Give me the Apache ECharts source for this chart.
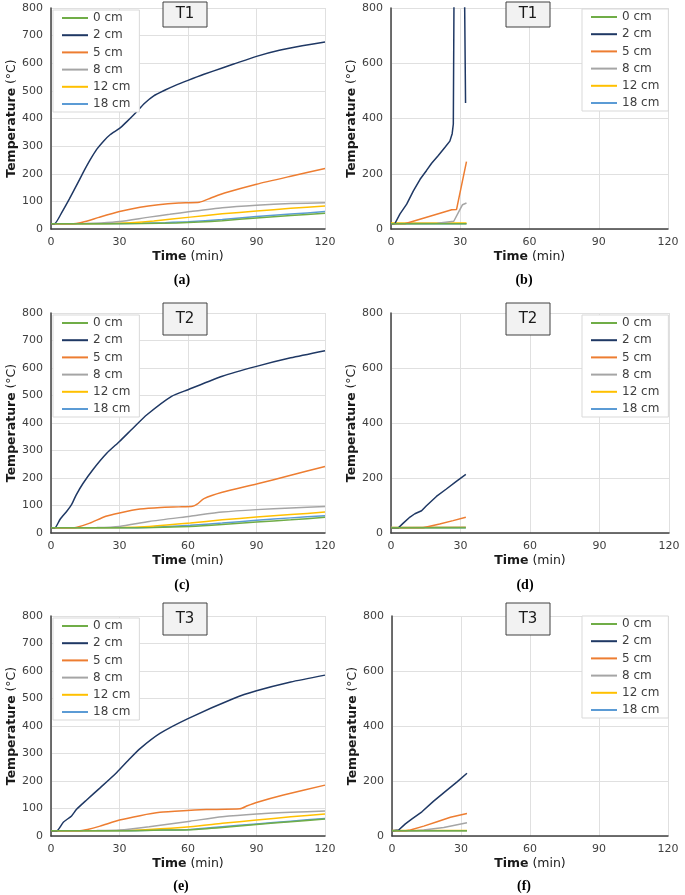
<!DOCTYPE html>
<html><head><meta charset="utf-8">
<script src="https://cdn.jsdelivr.net/npm/echarts@6/dist/echarts.min.js"></script>
<style>html,body{margin:0;padding:0;background:#fff}#c{width:685px;height:895px}</style>
</head><body><div id="c"></div>
<script>
const seriesNames = ['0 cm','2 cm','5 cm','8 cm','12 cm','18 cm'];
const panelTags = ['T1','T1','T2','T2','T3','T3'];
const panelLetters = ['(a)','(b)','(c)','(d)','(e)','(f)'];
const xTicks = [0,30,60,90,120];
const yTicksLeft = [0,100,200,300,400,500,600,700,800];
const yTicksRight = [0,200,400,600,800];

// Panel (a) T1
const A0  = [[0,19],[20,19],[40,20],[55,22],[65,25],[75,30],[90,40],[105,49],[120,57]];
const A2  = [[0,19],[1.5,19],[5,64],[8,108],[11,155],[14,203],[17,248],[20,288],[23,318],[26,342],[30,364],[33,387],[37,420],[41,455],[45,482],[50,503],[54,518],[60,538],[67,560],[75,583],[80,597],[90,625],[100,647],[110,663],[120,677]];
const A5  = [[0,19],[8,19],[11,20],[15,27],[21,42],[30,63],[39,79],[47,88],[56,94],[65,97],[70,112],[76,130],[90,162],[105,191],[120,219]];
const A8  = [[0,19],[15,20],[22,22],[30,27],[43,43],[52,53],[61,63],[75,77],[90,86],[105,92],[120,95]];
const A12 = [[0,19],[25,20],[35,23],[45,29],[61,43],[75,55],[90,65],[105,75],[120,83]];
const A18 = [[0,19],[20,19],[40,21],[50,23],[60,26],[75,34],[90,45],[105,54],[120,63]];

// Panel (b) T1
const B0  = [[0,19],[32.7,19]];
const B2  = [[0,19],[1.7,20],[3.9,55],[6.8,90],[9.7,138],[12.6,180],[15.4,212],[17.6,238],[20.5,266],[23.4,296],[25.5,318],[26.5,345],[27,380],[27.4,1000],[31.7,1000],[32.3,456]];
const B5  = [[0,19],[6,19],[26.3,70],[28.4,71],[29.2,74],[32.7,244]];
const B8  = [[0,19],[20,21],[27.2,28],[29.5,65],[31,88],[32.7,94]];
const B12 = [[0,22],[32.7,22]];
const B18 = [[0,19],[32.7,19]];

// Panel (c) T2
const C0  = [[0,19],[30,19],[45,20],[61,24],[75,31],[90,40],[105,48],[120,57]];
const C2  = [[0,19],[1.7,19],[4,50],[7,80],[9,103],[11,138],[14,180],[18.5,232],[24.4,290],[30,333],[36,382],[42,430],[52.8,497],[60,521],[75,570],[90,606],[105,637],[120,663]];
const C5  = [[0,19],[9,19],[11,20],[17,36],[24,61],[30,73],[39,87],[48,93],[56,95],[62,97],[64,105],[67,125],[75,148],[90,178],[105,210],[120,242]];
const C8  = [[0,19],[20,20],[30,24],[43,42],[61,61],[75,76],[90,85],[105,91],[120,96]];
const C12 = [[0,19],[30,20],[43,24],[61,36],[75,48],[90,58],[105,67],[120,76]];
const C18 = [[0,19],[30,19],[45,21],[61,28],[75,36],[90,46],[105,55],[120,63]];

// Panel (d) T2
const D0  = [[0,19],[32.3,19]];
const D2  = [[0,19],[3.2,19],[5.3,36],[8.2,58],[10.3,70],[13.2,81],[15.3,99],[19.6,133],[23.9,160],[28.2,188],[32.3,213]];
const D5  = [[0,19],[13.9,19],[21,33],[26.8,45],[32.3,57]];
const D8  = [[0,20],[32.3,21]];
const D12 = [[0,20],[32.3,21]];
const D18 = [[0,19],[32.3,19]];

// Panel (e) T3
const E0  = [[0,19],[30,19],[45,21],[61,23],[75,31],[90,42],[105,52],[120,62]];
const E2  = [[0,19],[2.5,19],[5.4,50],[9,73],[11.2,97],[15.6,131],[21.5,175],[28.8,231],[34.6,282],[39,318],[47.7,373],[60,427],[80,500],[90,528],[105,560],[120,585]];
const E5  = [[0,19],[12,19],[16,24],[21.5,36],[30,58],[39,74],[47.7,86],[58,92],[68,96],[82.8,99],[86,110],[90,122],[101.8,149],[120,185]];
const E8  = [[0,19],[20,20],[30,22],[43,34],[61,54],[75,70],[90,80],[105,86],[120,91]];
const E12 = [[0,19],[30,20],[43,24],[61,34],[75,46],[90,58],[105,70],[120,80]];
const E18 = [[0,19],[30,19],[45,21],[61,24],[75,34],[90,44],[105,54],[120,64]];

// Panel (f) T3
const F0  = [[0,19],[32.6,19]];
const F2  = [[0,19],[2.9,22],[5.8,44],[8.7,62],[13,88],[18.1,127],[23.9,167],[28.3,197],[32.6,228]];
const F5  = [[0,19],[6,19],[8,22],[13.8,36],[19.6,52],[25.4,68],[32.6,82]];
const F8  = [[0,19],[10,19],[13.8,22],[22.5,31],[32.6,48]];
const F12 = [[0,20],[32.6,20]];
const F18 = [[0,19],[32.6,19]];

const panelData = [
  [A0,A2,A5,A8,A12,A18],
  [B0,B2,B5,B8,B12,B18],
  [C0,C2,C5,C8,C12,C18],
  [D0,D2,D5,D8,D12,D18],
  [E0,E2,E5,E8,E12,E18],
  [F0,F2,F5,F8,F12,F18]
];

const colors = ['#70AD47','#1F3864','#ED7D31','#A5A5A5','#FFC000','#5B9BD5'];
const FONT = 'DejaVu Sans';

const layout = [
  {grid:{left:51,top:8,width:274,height:221}, legend:{left:53,top:10}, box:[163,2,44,25], cap:[182,280], yTicks:yTicksLeft, smooth:true},
  {grid:{left:391,top:8,width:277,height:221}, legend:{left:582,top:9}, box:[506,2,44,25], cap:[524,280], yTicks:yTicksRight, smooth:false},
  {grid:{left:51,top:313,width:274,height:220}, legend:{left:53,top:315}, box:[163,303,44,32], cap:[182,585], yTicks:yTicksLeft, smooth:true},
  {grid:{left:391,top:313,width:278,height:220}, legend:{left:582,top:315}, box:[506,303,44,32], cap:[525,585], yTicks:yTicksRight, smooth:false},
  {grid:{left:51,top:616,width:274,height:220}, legend:{left:53,top:618}, box:[163,603,44,32], cap:[181,886], yTicks:yTicksLeft, smooth:true},
  {grid:{left:392,top:616,width:276,height:220}, legend:{left:582,top:616}, box:[506,603,44,32], cap:[524,886], yTicks:yTicksRight, smooth:false}
];

const grids=[], xAxes=[], yAxes=[], series=[], legends=[], graphics=[];
layout.forEach((L,i)=>{
  grids.push(Object.assign({containLabel:false}, L.grid));
  xAxes.push({
    type:'value', gridIndex:i, min:xTicks[0], max:xTicks[xTicks.length-1], interval:xTicks[1]-xTicks[0],
    axisLine:{show:true, onZero:false, lineStyle:{color:'#404040', width:1.5}},
    axisTick:{show:false},
    axisLabel:{fontFamily:FONT, fontSize:11, color:'#404040', margin:8},
    splitLine:{show:true, lineStyle:{color:'#e0e0e0', width:1}},
    name:'{b|Time} {r|(min)}', nameLocation:'middle', nameGap:21,
    nameTextStyle:{rich:{b:{fontFamily:FONT, fontWeight:'bold', fontSize:12.5, color:'#1a1a1a'}, r:{fontFamily:FONT, fontSize:12.5, color:'#1a1a1a'}}}
  });
  yAxes.push({
    type:'value', gridIndex:i, min:L.yTicks[0], max:L.yTicks[L.yTicks.length-1], interval:L.yTicks[1]-L.yTicks[0],
    axisLine:{show:true, lineStyle:{color:'#404040', width:1.5}},
    axisTick:{show:false},
    axisLabel:{fontFamily:FONT, fontSize:11, color:'#404040', margin:8},
    splitLine:{show:true, lineStyle:{color:'#e0e0e0', width:1}},
    name:'{b|Temperature} {r|(°C)}', nameLocation:'middle', nameGap:30, nameRotate:90,
    nameTextStyle:{rich:{b:{fontFamily:FONT, fontWeight:'bold', fontSize:12.5, color:'#1a1a1a'}, r:{fontFamily:FONT, fontSize:12.5, color:'#1a1a1a'}}}
  });
  panelData[i].forEach((d,k)=>{
    series.push({
      type:'line', name:seriesNames[k], xAxisIndex:i, yAxisIndex:i, data:d,
      symbol:'none', showSymbol:false, clip:true,
      smooth: L.smooth ? 0.2 : false,
      lineStyle:{color:colors[k], width:1.5}, itemStyle:{color:colors[k]},
      z: 2 + (5-k)*0.01
    });
  });
  legends.push({
    orient:'vertical', left:L.legend.left, top:L.legend.top,
    data:seriesNames.map((n,k)=>({name:n, icon:'rect', itemStyle:{color:colors[k]}})),
    itemWidth:26, itemHeight:2, itemGap:3.2,
    padding:[1,9,1,9], backgroundColor:'#fff', borderColor:'#d9d9d9', borderWidth:1,
    textStyle:{fontFamily:FONT, fontSize:12, color:'#404040', lineHeight:14},
    selectedMode:false
  });
  const [bx,by,bw,bh]=L.box;
  graphics.push({type:'rect', shape:{x:bx,y:by,width:bw,height:bh}, style:{fill:'#f2f2f2', stroke:'#404040', lineWidth:1}, z:100});
  graphics.push({type:'text', x:bx+bw/2, y:by+bh/2, style:{text:panelTags[i], font:'15px "DejaVu Sans"', fill:'#1a1a1a', textAlign:'center', textVerticalAlign:'middle'}, z:101});
  graphics.push({type:'text', x:L.cap[0], y:L.cap[1], style:{text:panelLetters[i], font:'bold 14px "Liberation Serif"', fill:'#000', textAlign:'center', textVerticalAlign:'middle'}, z:101});
});

const chart = echarts.init(document.getElementById('c'), null, {renderer:'canvas', width:685, height:895});
chart.setOption({
  animation:false,
  backgroundColor:'#fff',
  textStyle:{fontFamily:FONT},
  grid:grids, xAxis:xAxes, yAxis:yAxes, legend:legends, series:series,
  graphic:{elements:graphics}
});
</script>
</body></html>
